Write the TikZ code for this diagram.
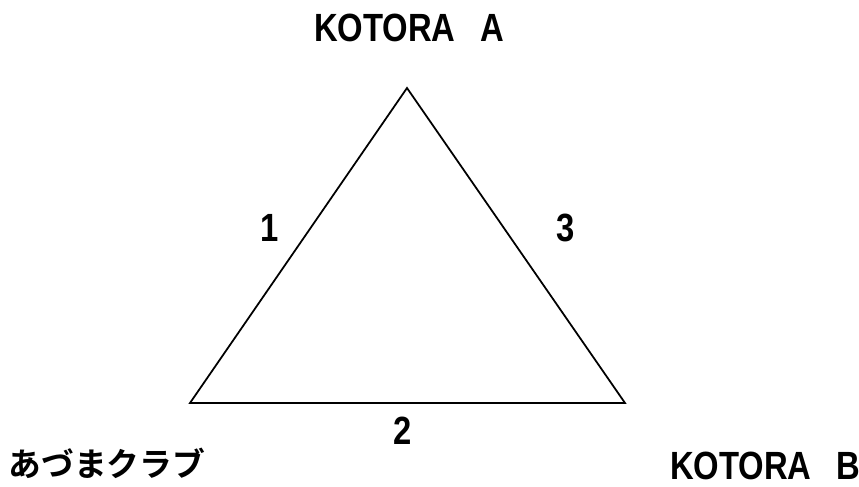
\documentclass[tikz,border=0pt]{standalone}
\usepackage{fontspec}
\setmainfont{Liberation Sans}
\newfontfamily\jpfont{Noto Sans CJK JP Bold}
\newcommand\tall[1]{\scalebox{1}[1.2]{#1}}
\begin{document}
\begin{tikzpicture}[x=0.03cm,y=-0.03cm,every node/.style={font=\fontsize{28}{30}\selectfont\bfseries,inner sep=0pt}]
\useasboundingbox (0,0) rectangle (859,487);
% team names
\node (kotoraA) at (409,28) {\tall{KOTORA\hspace{0.75em}A}};
\node[font=\jpfont\fontsize{28}{30}\selectfont] (azuma) at (107,463) {あづまクラブ};
\node (kotoraB) at (765,466) {\tall{KOTORA\hspace{0.75em}B}};
% triangle
\coordinate (top) at (407,88);
\coordinate (bl) at (190,403);
\coordinate (br) at (625,403);
\draw[line width=1.5pt,line join=miter] (top) -- (bl) -- (br) -- cycle;
% match numbers
\node (m1) at (270,228) {\tall{1}};
\node (m2) at (403,431) {\tall{2}};
\node (m3) at (566,228) {\tall{3}};
\end{tikzpicture}
\end{document}
